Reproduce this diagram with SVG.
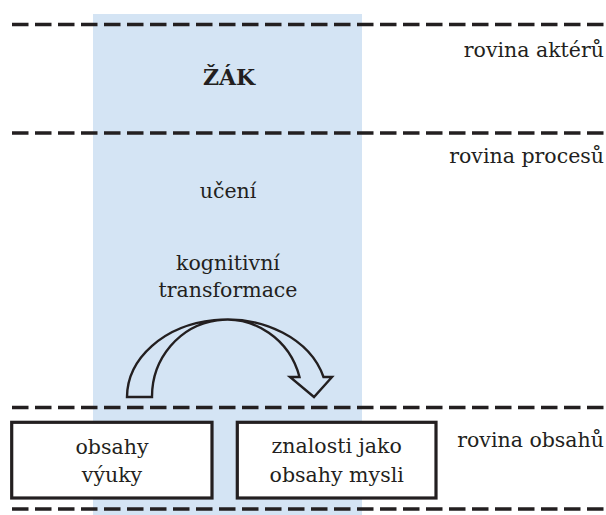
<svg xmlns="http://www.w3.org/2000/svg" width="606" height="515" viewBox="0 0 606 515">
  <style>
    .t { font-family: "DejaVu Serif", "Liberation Serif", serif; font-size: 20.5px; fill: #231f20; }
    .c { text-anchor: middle; }
    .r { text-anchor: end; }
    .b { font-weight: bold; font-size: 22px; }
    .dash { stroke: #231f20; stroke-width: 3.6; stroke-dasharray: 16.5 6.5; fill: none; }
    .box { fill: #ffffff; stroke: #231f20; stroke-width: 3.2; }
  </style>
  <rect id="band" x="93" y="14" width="269" height="501" fill="#d4e4f4"/>
  <g id="levels">
    <line class="dash" x1="12" y1="24.5" x2="606" y2="24.5"/>
    <line class="dash" x1="12" y1="133" x2="606" y2="133"/>
    <line class="dash" x1="12" y1="407.5" x2="606" y2="407.5"/>
    <line class="dash" x1="12" y1="509" x2="606" y2="509"/>
  </g>
  <g id="level-labels">
    <text class="t r" x="604" y="57">rovina aktérů</text>
    <text class="t r" x="604" y="163">rovina procesů</text>
    <text class="t r" x="604" y="447">rovina obsahů</text>
  </g>
  <g id="zak"><text class="t c b" x="229" y="85">ŽÁK</text></g>
  <g id="uceni"><text class="t c" x="228" y="198">učení</text></g>
  <g id="kognitivni">
    <text class="t c" x="228" y="270">kognitivní</text>
    <text class="t c" x="228" y="297">transformace</text>
  </g>
  <g id="obsahy-vyuky">
    <rect class="box" x="11.7" y="422.3" width="200.3" height="75.7"/>
    <text class="t c" x="112" y="454">obsahy</text>
    <text class="t c" x="112" y="482">výuky</text>
  </g>
  <g id="znalosti">
    <rect class="box" x="237.3" y="422.3" width="198.7" height="75.7"/>
    <text class="t c" x="336.7" y="453">znalosti jako</text>
    <text class="t c" x="336.7" y="482">obsahy mysli</text>
  </g>
  <g id="connectors">
    <path d="M127,397 A100,78 0 0 1 323.5,377 L332,377 L314,397 L290,377 L299.5,377 A75,77 0 0 0 152,397 Z" fill="#d4e4f4" stroke="#231f20" stroke-width="2.4" stroke-linejoin="miter"/>
  </g>
</svg>
